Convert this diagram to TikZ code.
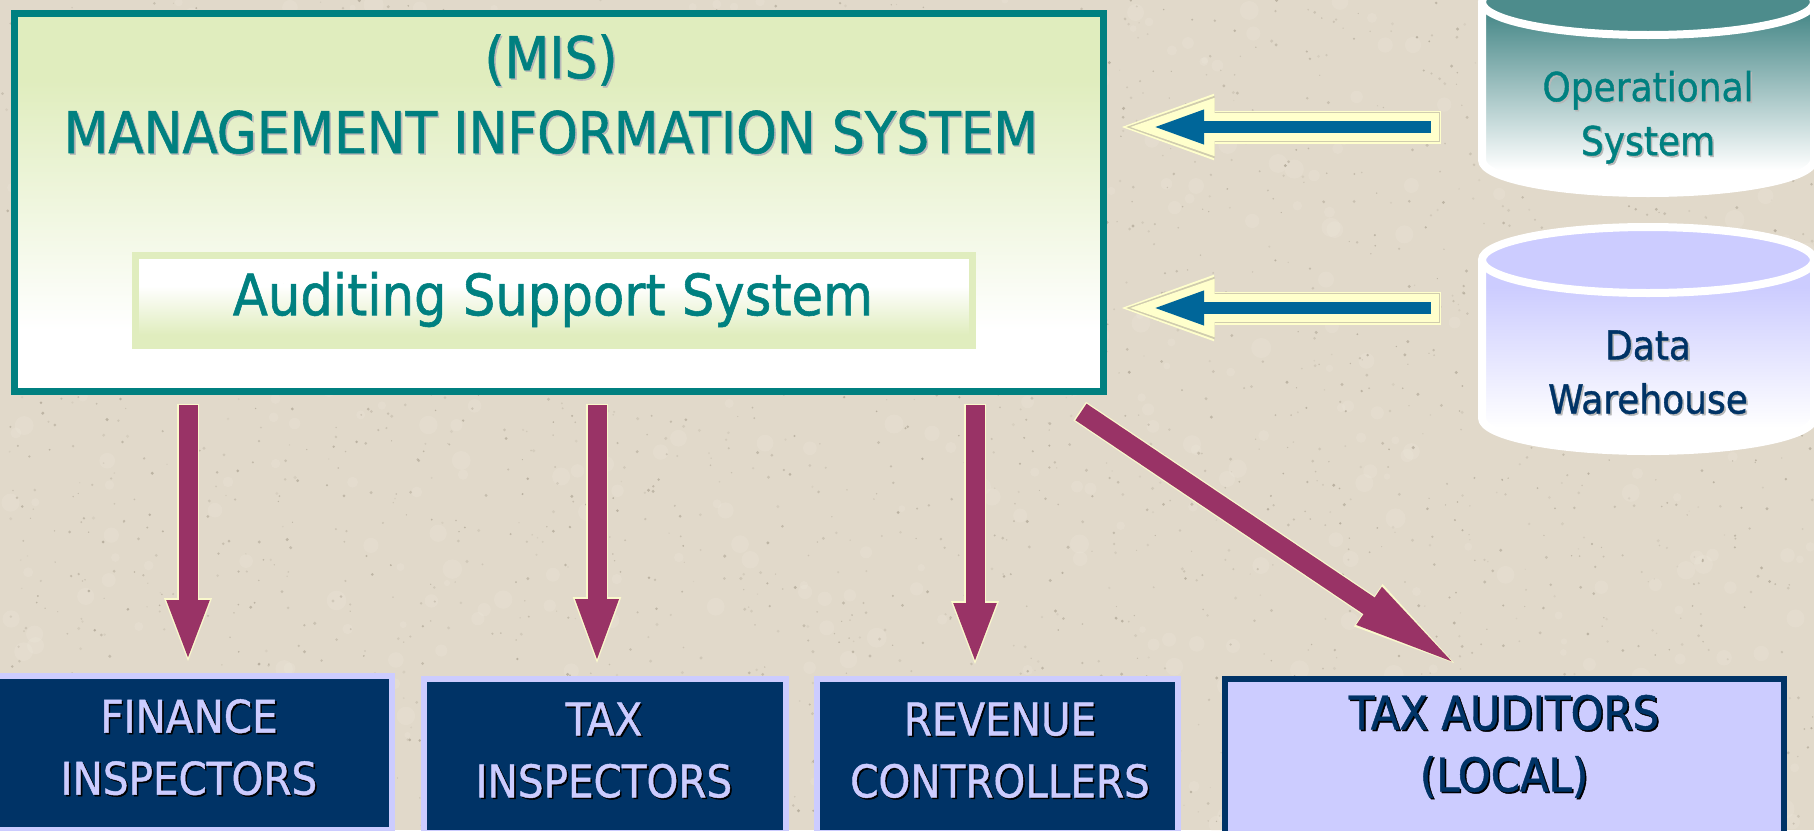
\documentclass[tikz,border=0pt]{standalone}
\usepackage{fontspec}
\usetikzlibrary{arrows.meta}
\setmainfont{DejaVu Sans Condensed}[BoldFont={DejaVu Sans Condensed},BoldFeatures={FakeBold=1}]
\definecolor{bgc}{HTML}{E1D9CA}
\definecolor{speckc}{HTML}{A89F8E}
\definecolor{blotc}{HTML}{F0EADF}
\definecolor{teal1}{HTML}{008080}
\definecolor{navy1}{HTML}{003366}
\definecolor{lav}{HTML}{CCCCFF}
\definecolor{pgreen}{HTML}{E0EDBE}
\definecolor{pale}{HTML}{FFFFCC}
\definecolor{paleline}{HTML}{D0CCAE}
\definecolor{blue1}{HTML}{006699}
\definecolor{purple1}{HTML}{993366}
\definecolor{opt}{HTML}{4D8C8C}
\definecolor{shgray}{HTML}{B8B8B8}
\pgfdeclareverticalshading{misshade}{100bp}{color(0bp)=(white);color(33bp)=(white);color(66bp)=(pgreen);color(100bp)=(pgreen)}
\pgfdeclareverticalshading{audshade}{100bp}{color(0bp)=(pgreen);color(31bp)=(pgreen);color(58bp)=(white);color(100bp)=(white)}
\pgfdeclareverticalshading{opshade}{100bp}{color(0bp)=(white);color(31bp)=(white);color(71bp)=(opt);color(100bp)=(opt)}
\pgfdeclareverticalshading{dwshade}{100bp}{color(0bp)=(white);color(31bp)=(white);color(68bp)=(lav);color(100bp)=(lav)}
\newcommand\shd[3]{\leavevmode\rlap{\kern1.6pt\raisebox{-1.6pt}{\color{#2}#3}}{\color{#1}#3}}
\tikzset{
 lbl/.style={inner sep=0pt,outer sep=0pt,align=center},
 darkbox/.style={draw=lav,fill=navy1,line width=6pt,inner sep=0pt,outer sep=0pt},
 lightbox/.style={draw=navy1,fill=lav,line width=6pt,inner sep=0pt,outer sep=0pt},
 misbox/.style={draw=teal1,shading=misshade,line width=7pt,inner sep=0pt,outer sep=0pt},
 audbox/.style={draw=pgreen,shading=audshade,line width=7pt,inner sep=0pt,outer sep=0pt},
 cylbody/.style={draw=white,line width=8pt,line join=round},
 blueconn/.style={-{Triangle[length=52pt,width=31pt]},draw=blue1,line width=12pt,
   shorten >=48.5pt,shorten <=10pt,
   preaction={draw=pale,line width=33pt,-{Triangle[length=102pt,width=57pt]},shorten >=8.5pt,shorten <=0pt},
   preaction={draw=paleline,line width=30pt,-{Triangle[length=99pt,width=53pt]},shorten >=12pt,shorten <=1.5pt},
   preaction={draw=pale,line width=28pt,-{Triangle[length=96pt,width=49pt]},shorten >=15pt,shorten <=2.5pt}},
 purpleconn/.style 2 args={-{Triangle[length=#1,width=#2]},draw=purple1,line width=19pt,
   shorten >=14pt,shorten <=14pt,
   preaction={draw=pale!85!bgc,line width=21.5pt,-{Triangle[length=#1+6pt,width=#2+4pt]},shorten >=10pt,shorten <=12.5pt}},
 diagconn/.style={-{Triangle[length=115pt,width=39pt]},draw=purple1,line width=20pt,
   preaction={draw=pale!85!bgc,line width=22.5pt,-{Triangle[length=121pt,width=43pt]},shorten >=-5pt,shorten <=-1.5pt}},
}
\begin{document}
\begin{tikzpicture}[x=1pt,y=-1pt]
\useasboundingbox (0,0) rectangle (1814,830);
\fill[bgc] (0,0) rectangle (1814,830);
\pgfmathsetseed{11}
\foreach \i in {1,...,500}{
  \pgfmathsetmacro\sx{rnd*1814}\pgfmathsetmacro\sy{rnd*830}\pgfmathsetmacro\sr{3+rnd*7}
  \fill[blotc,opacity=0.22] (\sx,\sy) circle (\sr);
}
\foreach \i in {1,...,2600}{
  \pgfmathsetmacro\sx{rnd*1814}\pgfmathsetmacro\sy{rnd*830}\pgfmathsetmacro\sr{0.6+rnd*1.1}\pgfmathsetmacro\so{0.15+rnd*0.55}
  \fill[speckc,opacity=\so] (\sx,\sy) circle (\sr);
}
% cylinders
\path[cylbody,shading=opshade] (1482,2) -- (1482,160) arc[start angle=180,end angle=0,x radius=166,y radius=33] -- (1814,2) -- cycle;
\draw[white,line width=8pt,fill=opt] (1648,2) ellipse [x radius=166,y radius=33];
\path[cylbody,shading=dwshade] (1482,260) -- (1482,418) arc[start angle=180,end angle=0,x radius=166,y radius=33] -- (1814,260) -- cycle;
\draw[white,line width=8pt,fill=lav] (1648,260) ellipse [x radius=166,y radius=33];
\node[lbl,font=\fontsize{40}{54}\bfseries] (optext) at (1648,118) {\shd{teal1}{shgray}{Operational}\\\shd{teal1}{shgray}{System}};
\node[lbl,font=\fontsize{40}{54}\bfseries] (dwtext) at (1648,373) {\shd{navy1}{shgray}{Data}\\\shd{navy1}{shgray}{Warehouse}};
% MIS
\node[misbox,minimum width=1089pt,minimum height=378pt] (mis) at (559,202) {};
\node[audbox,minimum width=837pt,minimum height=90pt] (aud) at (554,300.5) {};
\node[lbl,font=\fontsize{57.5}{75}\bfseries] (mistext) at (551,95) {\shd{teal1}{shgray}{(MIS)}\\\shd{teal1}{shgray}{MANAGEMENT INFORMATION SYSTEM}};
\node[lbl,font=\fontsize{57}{66}\bfseries,text=teal1] (audtext) at (553,299.5) {Auditing Support System};
% bottom boxes
\node[darkbox,minimum width=408pt,minimum height=154pt] (fin) at (188,753) {};
\node[darkbox,minimum width=362pt,minimum height=154pt] (tax) at (605,756) {};
\node[darkbox,minimum width=361pt,minimum height=154pt] (rev) at (997.5,756) {};
\node[lightbox,minimum width=559pt,minimum height=156pt] (loc) at (1504.5,757) {};
\node[lbl,font=\fontsize{45}{62}\bfseries] (fintext) at (189,748) {\shd{lav}{black}{FINANCE}\\\shd{lav}{black}{INSPECTORS}};
\node[lbl,font=\fontsize{45}{62}\bfseries] (taxtext) at (604,751) {\shd{lav}{black}{TAX}\\\shd{lav}{black}{INSPECTORS}};
\node[lbl,font=\fontsize{45}{62}\bfseries] (revtext) at (1000,751) {\shd{lav}{black}{REVENUE}\\\shd{lav}{black}{CONTROLLERS}};
\node[lbl,font=\fontsize{46.5}{62}\bfseries] (loctext) at (1504,747) {\shd{navy1}{black}{TAX AUDITORS}\\\shd{navy1}{black}{(LOCAL)}};
% connectors
\coordinate (opout) at (1441,127);
\coordinate (dwout) at (1441,308);
\draw[blueconn] (opout) -- (opout -| mis.east);
\draw[blueconn] (dwout) -- (dwout -| mis.east);
\coordinate (a2) at ([shift={(-8,0)}]tax.north);
\coordinate (a3) at ([shift={(-22.5,0)}]rev.north);
\draw[purpleconn={62pt}{38pt}] (mis.south -| fin.north) -- (fin.north);
\draw[purpleconn={66pt}{38pt}] (mis.south -| a2) -- (a2);
\draw[purpleconn={62pt}{38pt}] (mis.south -| a3) -- (a3);
\coordinate (a4s) at ([shift={(-22.5,21)}]mis.south east);
\coordinate (a4e) at ([shift={(-40,-9)}]loc.north);
\draw[diagconn] (a4s) -- (a4e);
\end{tikzpicture}
\end{document}
